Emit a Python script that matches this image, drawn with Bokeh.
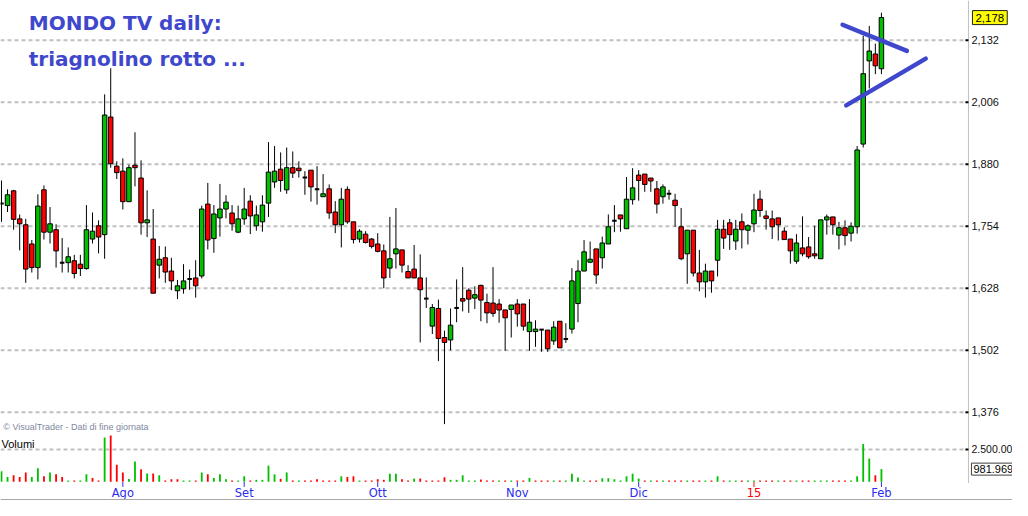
from bokeh.plotting import figure
from bokeh.models import Range1d, Label, ColumnDataSource
from bokeh.core.properties import value
from bokeh.embed import file_html
from bokeh.resources import INLINE

# ---------------- data ----------------
opens = [1.800, 1.796, 1.826, 1.769, 1.757, 1.718, 1.670, 1.828, 1.742, 1.747,
         1.680, 1.680, 1.684, 1.677, 1.668, 1.728, 1.755, 1.737, 1.976, 1.876,
         1.866, 1.804, 1.878, 1.852, 1.761, 1.728, 1.675, 1.690, 1.663, 1.623,
         1.627, 1.647, 1.649, 1.653, 1.799, 1.729, 1.771, 1.789, 1.781, 1.742,
         1.769, 1.805, 1.755, 1.763, 1.801, 1.844, 1.870, 1.828, 1.873, 1.872,
         1.853, 1.868, 1.829, 1.814, 1.830, 1.783, 1.757, 1.829, 1.763, 1.728,
         1.738, 1.728, 1.718, 1.704, 1.669, 1.698, 1.706, 1.662, 1.667, 1.649,
         1.607, 1.551, 1.587, 1.528, 1.523, 1.588, 1.607, 1.624, 1.608, 1.634,
         1.599, 1.598, 1.596, 1.584, 1.585, 1.596, 1.596, 1.540, 1.540, 1.544,
         1.543, 1.521, 1.561, 1.525, 1.545, 1.597, 1.663, 1.681, 1.708, 1.690,
         1.718, 1.765, 1.777, 1.749, 1.808, 1.858, 1.860, 1.852, 1.830, 1.814,
         1.820, 1.807, 1.753, 1.698, 1.746, 1.659, 1.641, 1.663, 1.685, 1.748,
         1.761, 1.724, 1.763, 1.746, 1.759, 1.809, 1.775, 1.769, 1.771, 1.744,
         1.728, 1.683, 1.710, 1.712, 1.698, 1.688, 1.767, 1.773, 1.736, 1.751,
         1.740, 1.753, 1.921, 2.090, 2.104, 2.074]
highs = [1.847, 1.829, 1.828, 1.778, 1.769, 1.726, 1.819, 1.837, 1.793, 1.758,
         1.730, 1.711, 1.696, 1.696, 1.797, 1.782, 1.766, 2.022, 2.075, 1.886,
         1.892, 1.879, 1.945, 1.888, 1.827, 1.789, 1.714, 1.713, 1.690, 1.645,
         1.677, 1.666, 1.685, 1.796, 1.842, 1.797, 1.840, 1.817, 1.797, 1.796,
         1.832, 1.817, 1.796, 1.817, 1.925, 1.917, 1.904, 1.914, 1.906, 1.886,
         1.866, 1.868, 1.876, 1.860, 1.839, 1.805, 1.832, 1.835, 1.763, 1.748,
         1.744, 1.730, 1.740, 1.717, 1.773, 1.791, 1.706, 1.675, 1.716, 1.697,
         1.650, 1.596, 1.605, 1.542, 1.587, 1.646, 1.671, 1.628, 1.632, 1.635,
         1.617, 1.671, 1.606, 1.584, 1.594, 1.606, 1.596, 1.606, 1.563, 1.545,
         1.543, 1.561, 1.561, 1.557, 1.669, 1.685, 1.726, 1.723, 1.708, 1.733,
         1.778, 1.797, 1.777, 1.854, 1.872, 1.868, 1.860, 1.852, 1.846, 1.839,
         1.828, 1.820, 1.791, 1.746, 1.746, 1.706, 1.678, 1.663, 1.767, 1.767,
         1.769, 1.767, 1.780, 1.758, 1.820, 1.827, 1.786, 1.786, 1.771, 1.752,
         1.728, 1.738, 1.774, 1.732, 1.755, 1.767, 1.778, 1.773, 1.763, 1.766,
         1.762, 1.917, 2.141, 2.161, 2.125, 2.188]
lows = [1.763, 1.783, 1.747, 1.705, 1.639, 1.660, 1.646, 1.727, 1.719, 1.670,
        1.660, 1.660, 1.648, 1.653, 1.666, 1.719, 1.699, 1.688, 1.873, 1.850,
        1.788, 1.803, 1.835, 1.737, 1.732, 1.618, 1.648, 1.639, 1.624, 1.606,
        1.617, 1.625, 1.609, 1.648, 1.707, 1.700, 1.733, 1.770, 1.745, 1.740,
        1.757, 1.738, 1.745, 1.743, 1.773, 1.832, 1.824, 1.820, 1.852, 1.853,
        1.818, 1.804, 1.798, 1.814, 1.769, 1.740, 1.711, 1.759, 1.719, 1.721,
        1.719, 1.709, 1.701, 1.628, 1.649, 1.668, 1.660, 1.649, 1.649, 1.518,
        1.588, 1.535, 1.480, 1.352, 1.502, 1.559, 1.581, 1.578, 1.586, 1.561,
        1.557, 1.570, 1.558, 1.501, 1.528, 1.550, 1.542, 1.501, 1.509, 1.499,
        1.499, 1.513, 1.507, 1.517, 1.536, 1.559, 1.663, 1.679, 1.637, 1.668,
        1.718, 1.742, 1.743, 1.749, 1.798, 1.806, 1.824, 1.824, 1.780, 1.800,
        1.808, 1.753, 1.685, 1.637, 1.652, 1.622, 1.609, 1.619, 1.652, 1.708,
        1.706, 1.706, 1.709, 1.717, 1.742, 1.773, 1.747, 1.728, 1.725, 1.727,
        1.678, 1.678, 1.693, 1.688, 1.688, 1.688, 1.737, 1.737, 1.707, 1.715,
        1.723, 1.739, 1.914, 2.034, 2.063, 2.063]
closes = [1.800, 1.818, 1.768, 1.759, 1.667, 1.670, 1.795, 1.742, 1.759, 1.704,
          1.680, 1.692, 1.658, 1.668, 1.747, 1.744, 1.732, 1.980, 1.881, 1.863,
          1.804, 1.873, 1.873, 1.761, 1.767, 1.618, 1.687, 1.661, 1.643, 1.633,
          1.643, 1.647, 1.633, 1.789, 1.726, 1.779, 1.789, 1.803, 1.759, 1.769,
          1.789, 1.775, 1.777, 1.797, 1.864, 1.866, 1.847, 1.873, 1.862, 1.867,
          1.853, 1.834, 1.829, 1.820, 1.781, 1.757, 1.809, 1.763, 1.727, 1.744,
          1.721, 1.713, 1.703, 1.649, 1.688, 1.708, 1.675, 1.649, 1.649, 1.625,
          1.607, 1.589, 1.526, 1.518, 1.553, 1.588, 1.602, 1.606, 1.615, 1.604,
          1.578, 1.577, 1.584, 1.568, 1.594, 1.576, 1.551, 1.559, 1.545, 1.544,
          1.505, 1.549, 1.507, 1.525, 1.643, 1.663, 1.702, 1.687, 1.655, 1.720,
          1.753, 1.765, 1.769, 1.809, 1.832, 1.847, 1.839, 1.846, 1.799, 1.834,
          1.820, 1.796, 1.688, 1.746, 1.659, 1.641, 1.663, 1.643, 1.748, 1.730,
          1.737, 1.748, 1.747, 1.755, 1.787, 1.786, 1.770, 1.753, 1.757, 1.727,
          1.704, 1.720, 1.698, 1.692, 1.694, 1.767, 1.773, 1.757, 1.751, 1.735,
          1.754, 1.909, 2.064, 2.110, 2.080, 2.178]
volumes = [825000, 375000, 500000, 375000, 725000, 375000, 1050000, 425000, 725000, 575000,
           375000, 100000, 100000, 100000, 575000, 300000, 100000, 3425000, 3575000, 1325000,
           725000, 225000, 1575000, 975000, 650000, 650000, 500000, 100000, 200000, 200000,
           100000, 100000, 100000, 725000, 575000, 300000, 575000, 200000, 100000, 100000,
           425000, 100000, 150000, 150000, 1250000, 575000, 225000, 725000, 100000, 100000,
           100000, 100000, 200000, 100000, 100000, 100000, 425000, 375000, 425000, 100000,
           100000, 100000, 200000, 150000, 625000, 625000, 200000, 100000, 250000, 250000,
           100000, 100000, 100000, 350000, 150000, 150000, 500000, 100000, 100000, 175000,
           100000, 100000, 100000, 100000, 100000, 100000, 100000, 300000, 100000, 100000,
           100000, 100000, 100000, 100000, 625000, 325000, 100000, 100000, 100000, 275000,
           275000, 200000, 100000, 425000, 625000, 250000, 100000, 100000, 100000, 100000,
           100000, 100000, 100000, 100000, 100000, 100000, 100000, 100000, 425000, 100000,
           100000, 100000, 100000, 100000, 100000, 100000, 100000, 100000, 100000, 100000,
           100000, 100000, 100000, 100000, 100000, 100000, 100000, 100000, 100000, 100000,
           100000, 425000, 2925000, 1800000, 500000, 981969]

month_ticks = [20, 40, 62, 85, 105, 124, 145]
month_labels = ["Ago", "Set", "Ott", "Nov", "Dic", "15", "Feb"]
year_label = "15"
price_ticks = [1.376, 1.502, 1.628, 1.754, 1.880, 2.006, 2.132]
volume_tick = 2500000
volume_tick_label = "2.500.00"
title_lines = ["MONDO TV daily:", "triagnolino rotto ..."]
source_note = "\u00a9 VisualTrader - Dati di fine giornata"
volume_title = "Volumi"
# hand-drawn triangle (bar index, price)
upper_line_x = [138.6, 149.2]
upper_line_y = [2.1635, 2.1103]
lower_line_x = [139.2, 152.3]
lower_line_y = [1.9995, 2.0946]

# ---------------- layout & styles ----------------
X0, X1 = -0.16, 166.6          # bar-index range of the whole canvas
Y0, Y1 = 1.1968, 2.2127        # price range of the whole canvas
V0, V1 = -1447500, 37252500    # volume range of the whole canvas
AXIS_X = 159.34                # price scale line position (bar units)
PANEL_BOTTOM = 1.2323          # bottom of the chart panel (price units)
TICK_LEN = 0.5                 # bar units
XTICK_TOP, XTICK_BOTTOM = 1.2343, 1.2244
XLABEL_Y = 1.2126

GREEN = "#00c000"
RED = "#ff0000"
INK = "#3F48CC"
GRID = "#c0c0c0"
AXBLUE = "#2b2bf0"
FONT = "DejaVu Sans"
AFONT = "Liberation Sans"

n = len(opens)
idx = list(range(n))

p = figure(width=1012, height=500, output_backend="svg", toolbar_location=None,
           x_range=Range1d(X0, X1), y_range=Range1d(Y0, Y1),
           min_border_left=0, min_border_top=0, min_border_right=0, min_border_bottom=0)
p.extra_y_ranges = {"vol": Range1d(V0, V1)}
p.axis.visible = False
p.grid.visible = False
p.outline_line_color = None
p.background_fill_color = "white"
p.border_fill_color = "white"

# ---------------- grid lines ----------------
k = len(price_ticks)
p.segment(x0=[X0] * k, x1=[AXIS_X - TICK_LEN] * k, y0=price_ticks, y1=price_ticks,
          line_color=GRID, line_width=2, line_dash="4 3")
p.segment(x0=[X0], x1=[AXIS_X - TICK_LEN], y0=[volume_tick], y1=[volume_tick],
          y_range_name="vol", line_color=GRID, line_width=2, line_dash="4 3")

# ---------------- price / volume scale (right) ----------------
p.segment(x0=[AXIS_X], x1=[AXIS_X], y0=[PANEL_BOTTOM], y1=[Y1], line_color="#c0c0c0", line_width=1)
p.segment(x0=[AXIS_X - TICK_LEN] * k, x1=[AXIS_X] * k, y0=price_ticks, y1=price_ticks,
          line_color="black", line_width=2)
p.segment(x0=[AXIS_X - TICK_LEN], x1=[AXIS_X], y0=[volume_tick], y1=[volume_tick],
          y_range_name="vol", line_color="black", line_width=2)
p.text(x=[AXIS_X] * k, y=price_ticks,
       text=[f"{t:.3f}".replace(".", ",") for t in price_ticks],
       x_offset=3, text_font=value(AFONT), text_font_size="11px", text_color="#101010",
       text_baseline="middle", text_align="left")
p.text(x=[AXIS_X], y=[volume_tick], text=[volume_tick_label], y_range_name="vol",
       x_offset=3, text_font=value(AFONT), text_font_size="10.5px", text_color="#101010",
       text_baseline="middle", text_align="left")

# ---------------- time axis (bottom) ----------------
m = len(month_ticks)
mcolors = [RED if t == year_label else AXBLUE for t in month_labels]
p.segment(x0=month_ticks, x1=month_ticks, y0=[XTICK_TOP] * m, y1=[XTICK_BOTTOM] * m,
          line_color=mcolors, line_width=1)
p.text(x=month_ticks, y=[XLABEL_Y] * m, text=month_labels, text_color=mcolors,
       text_font=value(FONT), text_font_size="11.5px", text_align="center",
       text_baseline="middle")
p.segment(x0=[X0], x1=[X1], y0=[Y0 + 0.002], y1=[Y0 + 0.002], line_color="#a8a8a8", line_width=1)

# ---------------- volume ----------------
vcolors = [GREEN if (i == 0 or closes[i] >= closes[i - 1]) else RED for i in idx]
p.vbar(x=idx, top=volumes, bottom=0, width=0.3, y_range_name="vol",
       fill_color=vcolors, line_color=None)

# ---------------- candles ----------------
p.segment(x0=idx, x1=idx, y0=lows, y1=highs, line_color="black", line_width=1)

body = [i for i in idx if opens[i] != closes[i]]
doji = [i for i in idx if opens[i] == closes[i]]
bsrc = ColumnDataSource(dict(
    x=body,
    top=[max(opens[i], closes[i]) for i in body],
    bottom=[min(opens[i], closes[i]) for i in body],
    color=[GREEN if closes[i] > opens[i] else RED for i in body],
))
p.vbar(x="x", top="top", bottom="bottom", width=0.74, source=bsrc,
       fill_color="color", line_color="black", line_width=1)
p.segment(x0=[i - 0.37 for i in doji], x1=[i + 0.37 for i in doji],
          y0=[closes[i] for i in doji], y1=[closes[i] for i in doji],
          line_color="black", line_width=2)

# ---------------- hand-drawn triangle ----------------
p.line(upper_line_x, upper_line_y, line_color=INK, line_width=4.5, line_cap="round")
p.line(lower_line_x, lower_line_y, line_color=INK, line_width=4.5, line_cap="round")

# ---------------- texts ----------------
p.add_layout(Label(x=4.5, y=2.167, text=title_lines[0], text_font=FONT, text_font_style="bold",
                   text_font_size="20px", text_color=INK, text_baseline="middle"))
p.add_layout(Label(x=4.5, y=2.0946, text=title_lines[1], text_font=FONT, text_font_style="bold",
                   text_font_size="20px", text_color=INK, text_baseline="middle"))
p.add_layout(Label(x=0.3, y=1.3465, text=source_note, text_font=AFONT,
                   text_font_size="9px", text_color="#8088a0", text_baseline="middle"))
p.add_layout(Label(x=X0, x_offset=1, y=1.3124, text=volume_title, text_font=AFONT,
                   text_font_size="11px", text_color="black", text_baseline="middle"))

last_txt = f"{closes[-1]:.3f}".replace(".", ",")
p.add_layout(Label(x=AXIS_X, x_offset=4, y=closes[-1], text=last_txt, text_font=AFONT,
                   text_font_size="11.5px", text_color="black", text_baseline="middle",
                   background_fill_color="#ffff00", border_line_color="#202020", padding=3))
vol_txt = f"{volumes[-1]:,}".replace(",", ".")
p.add_layout(Label(x=AXIS_X, x_offset=3, y=volumes[-1], y_range_name="vol", text=vol_txt,
                   text_font=AFONT, text_font_size="11px", text_color="black",
                   text_baseline="middle", background_fill_color="white",
                   border_line_color="#404040", padding=2))

open("out.html", "w").write(file_html(p, INLINE))
